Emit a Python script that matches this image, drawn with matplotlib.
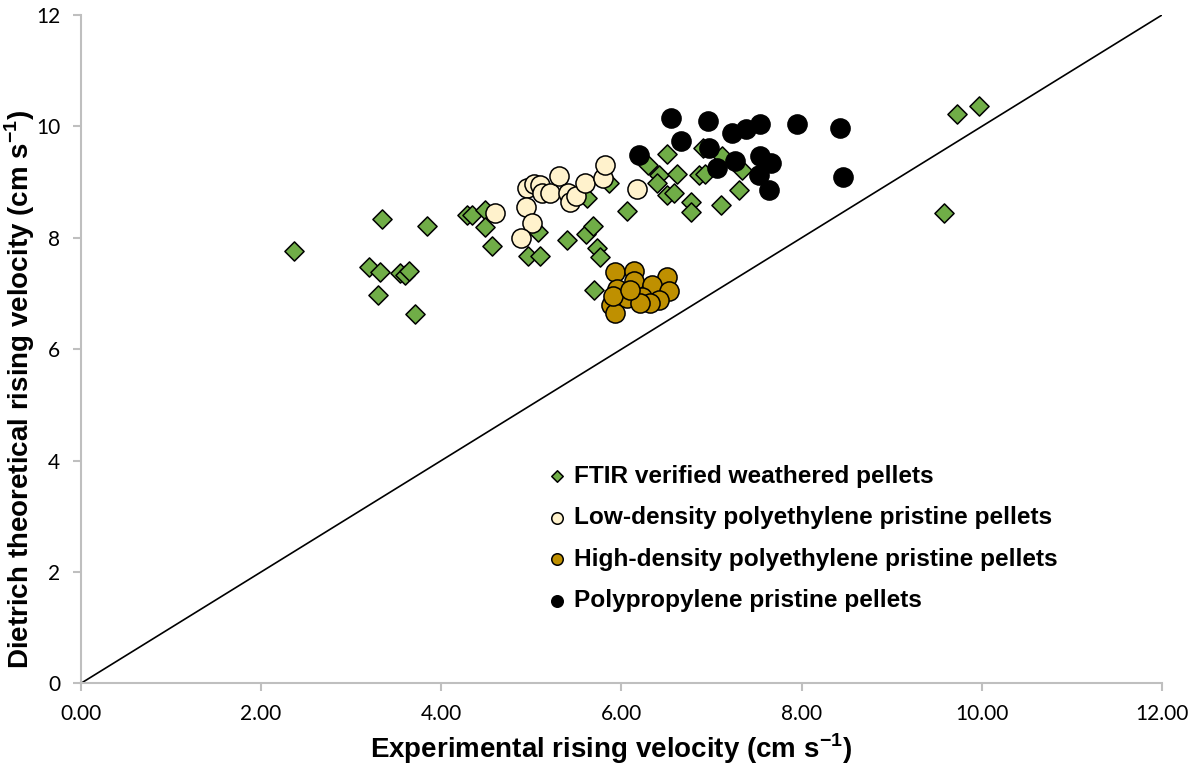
import matplotlib
matplotlib.use("Agg")
import matplotlib.pyplot as plt

plt.rcParams['font.family'] = ['Lato', 'DejaVu Sans']
plt.rcParams['mathtext.fontset'] = 'custom'
plt.rcParams['mathtext.rm'] = 'Liberation Sans'
plt.rcParams['mathtext.bf'] = 'Liberation Sans:bold'

BOLD = ['Liberation Sans', 'DejaVu Sans']

# FTIR verified weathered pellets
ftir_x = [2.36, 3.34, 3.84, 3.20, 3.32, 3.54, 3.60, 3.64, 3.30, 3.71,
          4.29, 4.34, 4.48, 4.48, 4.56, 5.07, 4.96, 5.10, 5.39, 5.61,
          5.68, 5.73, 5.76, 5.69, 6.06, 5.62, 5.86, 6.30, 6.42, 6.39,
          6.51, 6.58, 6.62, 6.77, 6.77, 6.51, 6.86, 6.93, 6.90, 7.12,
          7.34, 7.10, 7.30, 9.73, 9.97, 9.58]
ftir_y = [7.77, 8.33, 8.21, 7.48, 7.39, 7.36, 7.33, 7.41, 6.97, 6.63,
          8.41, 8.41, 8.50, 8.19, 7.86, 8.11, 7.68, 7.68, 7.96, 8.07,
          8.21, 7.81, 7.66, 7.06, 8.48, 8.71, 8.98, 9.31, 9.13, 8.98,
          8.77, 8.81, 9.14, 8.65, 8.47, 9.51, 9.13, 9.14, 9.61, 9.46,
          9.22, 8.59, 8.86, 10.23, 10.36, 8.44]

# Low-density polyethylene pristine pellets
ldpe_x = [4.95, 5.03, 5.10, 5.12, 5.21, 5.31, 5.41, 5.43, 5.50, 5.60,
          5.80, 5.82, 6.17, 4.60, 4.94, 5.01, 4.89]
ldpe_y = [8.90, 8.97, 8.95, 8.80, 8.80, 9.11, 8.81, 8.64, 8.75, 8.98,
          9.07, 9.31, 8.88, 8.44, 8.55, 8.27, 8.00]

# High-density polyethylene pristine pellets
hdpe_x = [5.93, 6.14, 6.51, 5.95, 6.14, 6.34, 6.23, 6.53, 6.42, 6.32,
          5.88, 5.93, 6.06, 6.21, 5.91, 6.10]
hdpe_y = [7.39, 7.41, 7.30, 7.08, 7.23, 7.15, 6.94, 7.04, 6.89, 6.83,
          6.80, 6.65, 6.92, 6.83, 6.95, 7.07]

# Polypropylene pristine pellets
pp_x = [6.55, 6.96, 6.66, 6.19, 6.97, 7.23, 7.38, 7.54, 7.95, 8.43,
        8.46, 7.06, 7.26, 7.54, 7.66, 7.53, 7.64]
pp_y = [10.15, 10.09, 9.73, 9.49, 9.61, 9.88, 9.95, 10.05, 10.05, 9.97,
        9.10, 9.25, 9.37, 9.46, 9.34, 9.13, 8.86]

line_vals = [0, 12]
x_ticks = [0, 2, 4, 6, 8, 10, 12]
y_ticks = [0, 2, 4, 6, 8, 10, 12]

fig = plt.figure(figsize=(12.01, 7.69), dpi=100)
ax = fig.add_axes([0.0674, 0.1114, 0.9001, 0.8691])

ax.plot(line_vals, line_vals, color='black', lw=1.2, zorder=1)

ax.scatter(ftir_x, ftir_y, marker='D', s=95, color='#70AD47', edgecolors='black',
           linewidths=1.1, zorder=3, label='FTIR verified weathered pellets')
ax.scatter(ldpe_x, ldpe_y, marker='o', s=190, color='#FFF2CC', edgecolors='black',
           linewidths=1.1, zorder=4, label='Low-density polyethylene pristine pellets')
ax.scatter(hdpe_x, hdpe_y, marker='o', s=190, color='#BF9000', edgecolors='black',
           linewidths=1.1, zorder=4, label='High-density polyethylene pristine pellets')
ax.scatter(pp_x, pp_y, marker='o', s=190, color='black', edgecolors='black',
           linewidths=1.1, zorder=4, label='Polypropylene pristine pellets')

ax.set_xlim(0, 12)
ax.set_ylim(0, 12)
ax.set_xticks(x_ticks)
ax.set_xticklabels([f'{v:.2f}' for v in x_ticks])
ax.set_yticks(y_ticks)
ax.set_yticklabels([str(v) for v in y_ticks])

for s in ['top', 'right']:
    ax.spines[s].set_visible(False)
for s in ['left', 'bottom']:
    ax.spines[s].set_color('#BFBFBF')
    ax.spines[s].set_linewidth(1.5)
ax.tick_params(axis='both', direction='out', length=6, width=1.5, color='#BFBFBF',
               labelsize=15, labelcolor='black', pad=9)

ax.set_xlabel(r'Experimental rising velocity (cm s$^{\mathbf{-1}}$)', fontsize=20,
              fontweight='bold', family=BOLD)
ax.xaxis.set_label_coords(0.49, -0.072)
ax.set_ylabel(r'Dietrich theoretical rising velocity (cm s$^{\mathbf{-1}}$)', fontsize=20,
              fontweight='bold', family=BOLD)
ax.yaxis.set_label_coords(-0.041, 0.44)

leg = ax.legend(loc='upper left', bbox_to_anchor=(0.42, 0.342), frameon=False,
                prop={'weight': 'bold', 'size': 17.6, 'family': BOLD}, markerscale=0.6,
                handletextpad=0.2, labelspacing=0.76, handlelength=1.0,
                borderaxespad=0)

fig.savefig('out.png', dpi=100)
